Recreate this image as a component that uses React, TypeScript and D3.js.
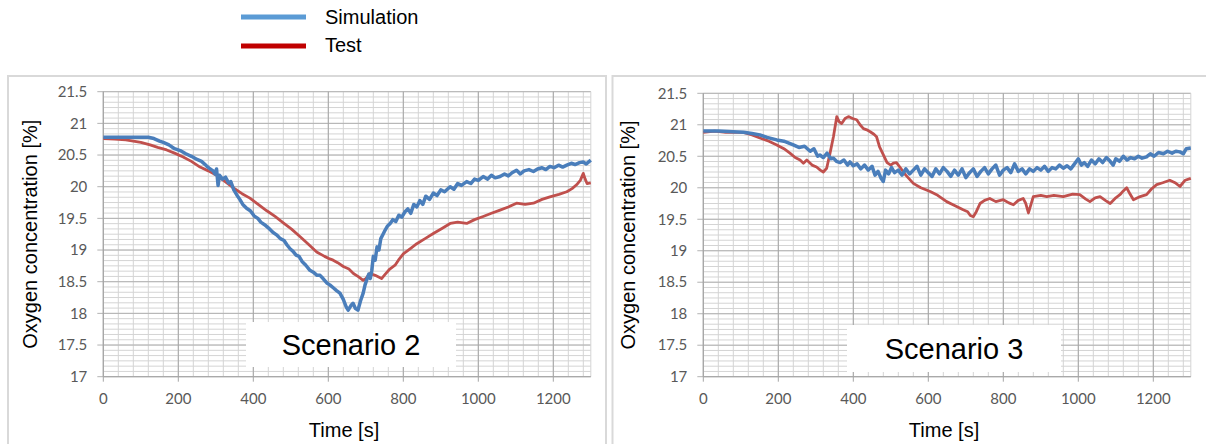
import * as d3 from "d3";

// [time s, O2 %]
const s2Simulation: [number, number][] = [
  [0, 20.78], [40, 20.78], [80, 20.78], [120, 20.78], [135, 20.76], [150, 20.72], [160, 20.7], [175, 20.66],
  [190, 20.6], [205, 20.57], [220, 20.52], [235, 20.48], [250, 20.43], [262, 20.4], [275, 20.33], [285, 20.28],
  [293, 20.25], [298, 20.2], [302, 20.28], [306, 20.02], [310, 20.18], [318, 20.12], [326, 20.15], [334, 20.06],
  [340, 20.08], [348, 19.95], [356, 19.87], [364, 19.8], [372, 19.72], [382, 19.66], [392, 19.62], [402, 19.54],
  [412, 19.5], [420, 19.44], [430, 19.4], [440, 19.35], [452, 19.28], [462, 19.24], [472, 19.18], [482, 19.15],
  [490, 19.08], [498, 19.02], [506, 18.98], [514, 18.92], [522, 18.9], [530, 18.82], [540, 18.76], [551, 18.68],
  [560, 18.65], [570, 18.6], [578, 18.6], [586, 18.55], [596, 18.48], [604, 18.45], [614, 18.4], [622, 18.36],
  [631, 18.32], [640, 18.22], [648, 18.1], [653, 18.05], [660, 18.12], [666, 18.16], [672, 18.08], [679, 18.05],
  [686, 18.2], [693, 18.32], [698, 18.45], [702, 18.52], [708, 18.62], [712, 18.55], [716, 18.68], [720, 18.9],
  [725, 18.84], [730, 19.05], [735, 19.0], [740, 19.18], [746, 19.25], [752, 19.32], [758, 19.38], [765, 19.42],
  [772, 19.48], [780, 19.45], [788, 19.55], [796, 19.52], [804, 19.6], [812, 19.65], [820, 19.58], [828, 19.72],
  [836, 19.68], [844, 19.78], [852, 19.72], [860, 19.85], [870, 19.8], [880, 19.9], [890, 19.86], [900, 19.95],
  [910, 19.92], [925, 20.0], [935, 19.96], [945, 20.05], [955, 20.02], [969, 20.08], [980, 20.05], [990, 20.12],
  [1000, 20.1], [1013, 20.16], [1025, 20.12], [1035, 20.18], [1045, 20.14], [1058, 20.16], [1070, 20.2],
  [1080, 20.17], [1090, 20.22], [1102, 20.26], [1112, 20.2], [1122, 20.25], [1135, 20.27], [1147, 20.24],
  [1158, 20.28], [1170, 20.3], [1180, 20.27], [1191, 20.32], [1202, 20.3], [1214, 20.34], [1225, 20.31],
  [1236, 20.34], [1248, 20.37], [1258, 20.35], [1270, 20.38], [1280, 20.39], [1288, 20.36], [1300, 20.42],
];

const s2Test: [number, number][] = [
  [0, 20.76], [30, 20.75], [60, 20.74], [80, 20.72], [100, 20.7], [125, 20.66], [145, 20.62], [169, 20.58],
  [190, 20.53], [213, 20.47], [235, 20.4], [258, 20.31], [280, 20.25], [302, 20.18], [325, 20.08], [347, 19.98],
  [370, 19.89], [391, 19.82], [413, 19.72], [436, 19.62], [458, 19.53], [480, 19.43], [502, 19.33], [525, 19.21],
  [547, 19.09], [569, 18.97], [590, 18.9], [604, 18.86], [613, 18.84], [625, 18.8], [640, 18.74], [655, 18.7],
  [667, 18.63], [680, 18.58], [693, 18.52], [700, 18.55], [711, 18.63], [725, 18.6], [742, 18.55], [752, 18.62],
  [764, 18.7], [778, 18.76], [787, 18.84], [800, 18.94], [818, 19.02], [836, 19.1], [858, 19.18], [880, 19.26],
  [903, 19.34], [925, 19.42], [945, 19.44], [969, 19.42], [990, 19.48], [1013, 19.53], [1035, 19.58],
  [1058, 19.63], [1080, 19.68], [1102, 19.74], [1125, 19.72], [1147, 19.74], [1170, 19.8], [1191, 19.84],
  [1215, 19.88], [1236, 19.92], [1250, 19.97], [1262, 20.03], [1272, 20.1], [1280, 20.21], [1285, 20.12],
  [1290, 20.05], [1300, 20.06],
];

const s3Simulation: [number, number][] = [
  [0, 20.9], [40, 20.9], [80, 20.89], [107, 20.88], [130, 20.86], [151, 20.84], [170, 20.8], [196, 20.76],
  [215, 20.74], [240, 20.68], [255, 20.64], [270, 20.66], [285, 20.58], [295, 20.62], [305, 20.5], [311, 20.52],
  [320, 20.48], [330, 20.55], [340, 20.46], [347, 20.47], [355, 20.42], [365, 20.4], [375, 20.44], [385, 20.36],
  [391, 20.41], [400, 20.35], [410, 20.38], [420, 20.3], [430, 20.36], [440, 20.28], [450, 20.34], [458, 20.2],
  [466, 20.26], [474, 20.15], [480, 20.1], [486, 20.28], [494, 20.22], [502, 20.32], [510, 20.24], [520, 20.28],
  [530, 20.2], [540, 20.3], [550, 20.22], [560, 20.28], [570, 20.34], [580, 20.2], [590, 20.3], [600, 20.24],
  [610, 20.18], [620, 20.3], [630, 20.22], [640, 20.32], [650, 20.26], [660, 20.18], [670, 20.28], [680, 20.2],
  [690, 20.3], [700, 20.16], [710, 20.24], [720, 20.3], [730, 20.18], [740, 20.26], [750, 20.32], [760, 20.22],
  [770, 20.3], [780, 20.36], [790, 20.2], [800, 20.28], [810, 20.32], [820, 20.24], [830, 20.38], [840, 20.26],
  [850, 20.3], [860, 20.22], [870, 20.3], [880, 20.26], [890, 20.32], [900, 20.28], [910, 20.34], [920, 20.26],
  [930, 20.32], [940, 20.3], [950, 20.36], [960, 20.31], [970, 20.35], [980, 20.3], [990, 20.38], [1000, 20.46],
  [1008, 20.36], [1016, 20.4], [1025, 20.34], [1035, 20.44], [1045, 20.38], [1055, 20.46], [1065, 20.4],
  [1075, 20.48], [1085, 20.42], [1093, 20.36], [1100, 20.46], [1110, 20.42], [1120, 20.5], [1130, 20.44],
  [1140, 20.48], [1150, 20.46], [1160, 20.5], [1170, 20.47], [1182, 20.49], [1192, 20.54], [1202, 20.5],
  [1214, 20.56], [1227, 20.54], [1238, 20.58], [1250, 20.55], [1260, 20.58], [1271, 20.57], [1280, 20.54],
  [1288, 20.62], [1300, 20.63],
];

const s3Test: [number, number][] = [
  [0, 20.88], [30, 20.9], [60, 20.88], [107, 20.88], [130, 20.84], [151, 20.79], [175, 20.74], [196, 20.68],
  [215, 20.62], [231, 20.55], [245, 20.48], [258, 20.44], [267, 20.39], [276, 20.44], [290, 20.36], [302, 20.33],
  [312, 20.28], [320, 20.25], [329, 20.31], [338, 20.55], [347, 20.81], [356, 21.13], [362, 21.05], [369, 21.02],
  [378, 21.1], [387, 21.13], [398, 21.1], [409, 21.08], [418, 21.0], [427, 20.94], [436, 20.92], [445, 20.89],
  [455, 20.85], [462, 20.81], [470, 20.65], [478, 20.55], [490, 20.4], [500, 20.36], [507, 20.39], [515, 20.4],
  [524, 20.33], [540, 20.2], [560, 20.07], [580, 20.0], [605, 19.94], [625, 19.88], [649, 19.78], [670, 19.72],
  [693, 19.65], [705, 19.62], [712, 19.56], [720, 19.54], [728, 19.62], [738, 19.75], [750, 19.8], [764, 19.83],
  [780, 19.78], [800, 19.81], [815, 19.76], [827, 19.73], [840, 19.8], [853, 19.83], [860, 19.75], [867, 19.6],
  [873, 19.72], [880, 19.86], [900, 19.88], [916, 19.86], [935, 19.88], [960, 19.86], [985, 19.9], [1004, 19.89],
  [1020, 19.82], [1031, 19.78], [1045, 19.84], [1058, 19.86], [1072, 19.8], [1085, 19.75], [1100, 19.84],
  [1111, 19.89], [1120, 19.95], [1129, 20.0], [1138, 19.9], [1147, 19.81], [1165, 19.86], [1182, 19.89],
  [1195, 19.98], [1209, 20.05], [1225, 20.08], [1244, 20.12], [1258, 20.08], [1271, 20.02], [1285, 20.12],
  [1300, 20.15],
];

const xTicks = [0, 200, 400, 600, 800, 1000, 1200];
const yTicks = [17, 17.5, 18, 18.5, 19, 19.5, 20, 20.5, 21, 21.5];
const seriesNames = ["Simulation", "Test"];
const scenarioLabels = ["Scenario 2", "Scenario 3"];

const SIM_COLOR = "#4a7ebb";
const TEST_COLOR = "#c0504d";
const TICK_FONT = "Lato, 'Open Sans', sans-serif";
const TITLE_FONT = "'Liberation Sans', Arial, sans-serif";

type PanelProps = {
  left: number;
  top: number;
  width: number;
  height: number;
  sim: [number, number][];
  test: [number, number][];
  label: string;
  box: { x: number; y: number; w: number; h: number };
  frameX: number;
  titleX: number;
};

function Panel({ left, top, width, height, sim, test, label, box, frameX, titleX }: PanelProps) {
  const x = d3.scaleLinear().domain([0, 1300]).range([left, left + width]);
  const y = d3.scaleLinear().domain([17, 21.5]).range([top + height, top]);
  const line = d3
    .line<[number, number]>()
    .x((d) => x(d[0]))
    .y((d) => y(d[1]));

  const minorX = d3.range(0, 1300, 40);
  const minorY = d3.range(0, 55).map((i) => 17 + (i * 0.5) / 6);

  return (
    <g>
      <rect x={frameX} y={76} width={598} height={400} fill="#fff" stroke="#d9d9d9" strokeWidth={2} />
      {/* minor grid */}
      {minorY.map((v, i) => (
        <line key={"hy" + i} x1={x(0)} x2={x(1300)} y1={y(v)} y2={y(v)} stroke="#d4d4d4" strokeWidth={1} />
      ))}
      {minorX.map((t) => (
        <line key={"vx" + t} x1={x(t)} x2={x(t)} y1={y(21.5)} y2={y(17)} stroke="#d4d4d4" strokeWidth={1} />
      ))}
      {/* major grid */}
      {yTicks.map((v) => (
        <line key={"my" + v} x1={x(0) - 6} x2={x(1300)} y1={y(v)} y2={y(v)} stroke="#b3b3b3" strokeWidth={1} />
      ))}
      {xTicks.map((t) => (
        <line key={"mx" + t} x1={x(t)} x2={x(t)} y1={y(21.5)} y2={y(17) + 5} stroke="#a6a6a6" strokeWidth={1} />
      ))}
      <line x1={x(1300)} x2={x(1300)} y1={y(21.5)} y2={y(17)} stroke="#d4d4d4" strokeWidth={1} />
      <line x1={x(0)} x2={x(0)} y1={y(21.5)} y2={y(17)} stroke="#a6a6a6" strokeWidth={1} />
      <line x1={x(0)} x2={x(1300)} y1={y(17)} y2={y(17)} stroke="#a6a6a6" strokeWidth={1} />

      <path d={line(test) ?? ""} fill="none" stroke={TEST_COLOR} strokeWidth={2.8} strokeLinejoin="round" />
      <path d={line(sim) ?? ""} fill="none" stroke={SIM_COLOR} strokeWidth={3.5} strokeLinejoin="round" />

      {yTicks.map((v) => (
        <text key={"ty" + v} x={x(0) - 16} y={y(v)} dy="0.35em" textAnchor="end" fontFamily={TICK_FONT} fontSize={15} fill="#595959">
          {v}
        </text>
      ))}
      {xTicks.map((t) => (
        <text key={"tx" + t} x={x(t)} y={y(17) + 27} textAnchor="middle" fontFamily={TICK_FONT} fontSize={15} fill="#595959">
          {t}
        </text>
      ))}

      <rect x={box.x} y={box.y} width={box.w} height={box.h} fill="#fff" />
      <text x={box.x + box.w / 2} y={box.y + box.h / 2} dy="0.36em" textAnchor="middle" fontFamily={TITLE_FONT} fontSize={29} fill="#000">
        {label}
      </text>

      <text
        transform={`translate(${titleX},${(y(21.5) + y(17)) / 2}) rotate(-90)`}
        textAnchor="middle"
        dy="0.35em"
        fontFamily={TITLE_FONT}
        fontSize={20}
        fill="#000"
      >
        Oxygen concentration [%]
      </text>
      <text x={(x(0) + x(1300)) / 2 - 3} y={437} textAnchor="middle" fontFamily={TITLE_FONT} fontSize={20} fill="#000">
        Time [s]
      </text>
    </g>
  );
}

export default function App() {
  return (
    <svg width={1206} height={444} style={{ position: "absolute", left: 0, top: 0, background: "#fff" }}>
      <rect width={1206} height={444} fill="#fff" />
      <Panel
        left={103.3}
        top={91.7}
        width={487.5}
        height={285}
        sim={s2Simulation}
        test={s2Test}
        label={scenarioLabels[0]}
        box={{ x: 246, y: 322, w: 210, h: 45 }}
        frameX={8}
        titleX={30}
      />
      <Panel
        left={703.3}
        top={93.3}
        width={487.5}
        height={283.4}
        sim={s3Simulation}
        test={s3Test}
        label={scenarioLabels[1]}
        box={{ x: 847, y: 325, w: 214, h: 47 }}
        frameX={612.5}
        titleX={628}
      />
      {/* legend */}
      <line x1={241} x2={306} y1={17} y2={17} stroke="#5b9bd5" strokeWidth={5} />
      <line x1={241} x2={306} y1={46} y2={46} stroke="#c00000" strokeWidth={5} />
      <text x={325} y={17} dy="0.35em" fontFamily={TITLE_FONT} fontSize={20} fill="#000">
        {seriesNames[0]}
      </text>
      <text x={325} y={45} dy="0.35em" fontFamily={TITLE_FONT} fontSize={20} fill="#000">
        {seriesNames[1]}
      </text>
    </svg>
  );
}
